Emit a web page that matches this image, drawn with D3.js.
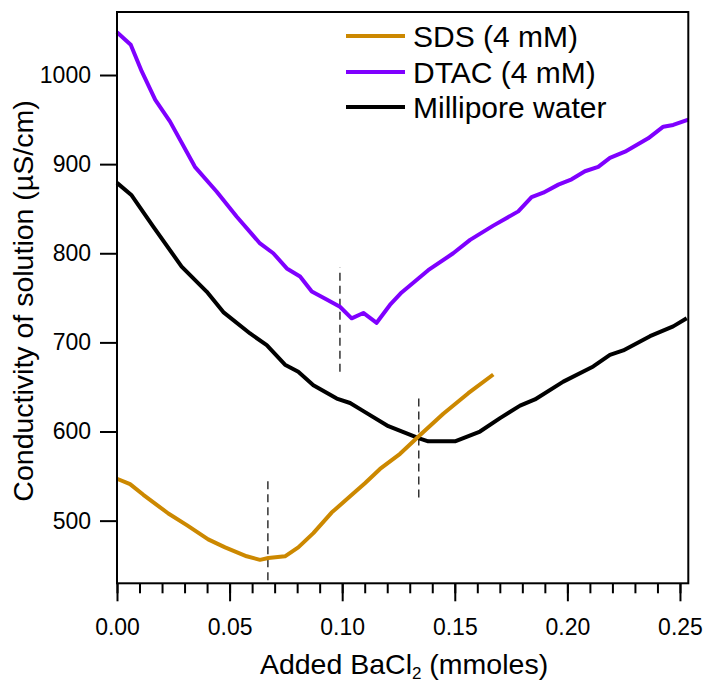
<!DOCTYPE html>
<html>
<head>
<meta charset="utf-8">
<script src="https://cdn.jsdelivr.net/npm/d3@7"></script>
<style>
  body { margin: 0; background: #fff; }
  text { font-family: "Liberation Sans", Arial, sans-serif; fill: #000; }
</style>
</head>
<body>
<svg id="chart" width="707" height="685"></svg>
<script>
// SDS (4 mM)
let sdsX = [0.000, 0.0058, 0.0117, 0.0228, 0.0310, 0.0405, 0.0480, 0.0576, 0.0635, 0.0672,
            0.0746, 0.0805, 0.0872, 0.0953, 0.1034, 0.1101, 0.1168, 0.1257, 0.1346, 0.1449, 0.1560, 0.1671];
let sdsY = [547, 541, 529, 508, 495, 479, 470, 460, 456, 458,
            460, 470, 486, 509, 527, 542, 558, 575, 596, 620, 643, 664];

// DTAC (4 mM)
let dtacX = [0.000, 0.0061, 0.0110, 0.0170, 0.0235, 0.0346, 0.0443, 0.0532, 0.0635, 0.0694,
             0.0754, 0.0813, 0.0865, 0.0931, 0.0990, 0.1042, 0.1094, 0.1153, 0.1212, 0.1264,
             0.1382, 0.1493, 0.1568, 0.1671, 0.1782, 0.1841, 0.1893, 0.1960, 0.2019, 0.2078,
             0.2137, 0.2189, 0.2256, 0.2359, 0.2426, 0.2470, 0.2537];
let dtacY = [1048, 1034, 1004, 972, 948, 897, 869, 841, 811, 800,
             783, 774, 757, 748, 740, 727, 733, 722, 742, 756,
             781, 800, 815, 831, 847, 863, 868, 877, 883, 892,
             897, 907, 914, 929, 942, 944, 950];

// Millipore water
let waterX = [0.000, 0.0065, 0.0161, 0.0287, 0.0398, 0.0472, 0.0591, 0.0665, 0.0746, 0.0805,
              0.0872, 0.0976, 0.1035, 0.1087, 0.1205, 0.1345, 0.1382, 0.1501, 0.1612, 0.1701,
              0.1790, 0.1856, 0.1982, 0.2115, 0.2189, 0.2248, 0.2367, 0.2470, 0.2530];
let waterY = [879, 865, 830, 785, 757, 734, 710, 697, 675, 667,
              652, 637, 632, 624, 606, 592, 589, 589, 600, 615,
              629, 636, 656, 673, 686, 691, 707, 718, 727];

// dashed markers: x position, y from, y to
let markX = [0.067, 0.099, 0.134];
let markY0 = [433, 667, 526];
let markY1 = [547, 784, 641];

let seriesNames = ["SDS (4 mM)", "DTAC (4 mM)", "Millipore water"];
let seriesColors = ["#cc8800", "#7f00ff", "#000000"];

let xMajor = [0, 0.05, 0.10, 0.15, 0.20, 0.25];
let xMinor = d3.range(0, 26).map(i => i / 100);
let yMajor = [500, 600, 700, 800, 900, 1000];

let svg = d3.select("#chart");
let plotLeft = 117, plotRight = 688.3, plotTop = 12, plotBottom = 583.3;

let xScale = d3.scaleLinear().domain([0, 0.2537]).range([plotLeft, plotRight]);
let yScale = d3.scaleLinear().domain([429.7, 1070.7]).range([plotBottom, plotTop]);

// dashed markers
for (let i = 0; i < markX.length; i++) {
  svg.append("line")
    .attr("x1", xScale(markX[i])).attr("x2", xScale(markX[i]))
    .attr("y1", yScale(markY0[i])).attr("y2", yScale(markY1[i]))
    .attr("stroke", "#333").attr("stroke-width", 1.5)
    .attr("stroke-dasharray", "8,5");
}

// curves
let series = [
  d3.zip(sdsX, sdsY),
  d3.zip(dtacX, dtacY),
  d3.zip(waterX, waterY)
];
let line = d3.line().x(d => xScale(d[0])).y(d => yScale(d[1]));

// draw water first, then SDS, then DTAC
[2, 0, 1].forEach(i => {
  svg.append("path")
    .datum(series[i])
    .attr("d", line)
    .attr("fill", "none")
    .attr("stroke", seriesColors[i])
    .attr("stroke-width", 4)
    .attr("stroke-linejoin", "round");
});

// frame
svg.append("rect")
  .attr("x", plotLeft).attr("y", plotTop)
  .attr("width", plotRight - plotLeft).attr("height", plotBottom - plotTop)
  .attr("fill", "none").attr("stroke", "#000").attr("stroke-width", 2);

// axes
let xMin = svg.append("g").attr("transform", "translate(0," + plotBottom + ")")
  .call(d3.axisBottom(xScale).tickValues(xMinor).tickSize(10).tickFormat(""));
let xAx = svg.append("g").attr("transform", "translate(0," + plotBottom + ")")
  .call(d3.axisBottom(xScale).tickValues(xMajor).tickSize(18).tickPadding(17).tickFormat(d3.format(".2f")));

let yAx = svg.append("g").attr("transform", "translate(" + plotLeft + ",0)")
  .call(d3.axisLeft(yScale).tickValues(yMajor).tickSize(17).tickPadding(9).tickFormat(d3.format("d")));

[xMin, xAx, yAx].forEach(g => {
  g.select(".domain").remove();
  g.selectAll("line").attr("stroke", "#000").attr("stroke-width", 2);
  g.selectAll("text").attr("font-size", 23).attr("font-family", "Liberation Sans, Arial, sans-serif").attr("fill", "#000");
});

// axis titles
let xt = svg.append("text")
  .attr("x", 404).attr("y", 674)
  .attr("text-anchor", "middle").attr("font-size", 28.5);
xt.append("tspan").text("Added BaCl");
xt.append("tspan").text("2").attr("font-size", 17).attr("dy", 5);
xt.append("tspan").text(" (mmoles)").attr("dy", -5);

svg.append("text")
  .attr("transform", "translate(33,301) rotate(-90)")
  .attr("text-anchor", "middle").attr("font-size", 28.5)
  .text("Conductivity of solution (µS/cm)");

// legend
let legY = [36, 72, 107];
for (let i = 0; i < seriesNames.length; i++) {
  svg.append("line")
    .attr("x1", 346).attr("x2", 405)
    .attr("y1", legY[i]).attr("y2", legY[i])
    .attr("stroke", seriesColors[i]).attr("stroke-width", 4);
  svg.append("text")
    .attr("x", 413).attr("y", legY[i] + 11)
    .attr("font-size", 30)
    .text(seriesNames[i]);
}
</script>
</body>
</html>
